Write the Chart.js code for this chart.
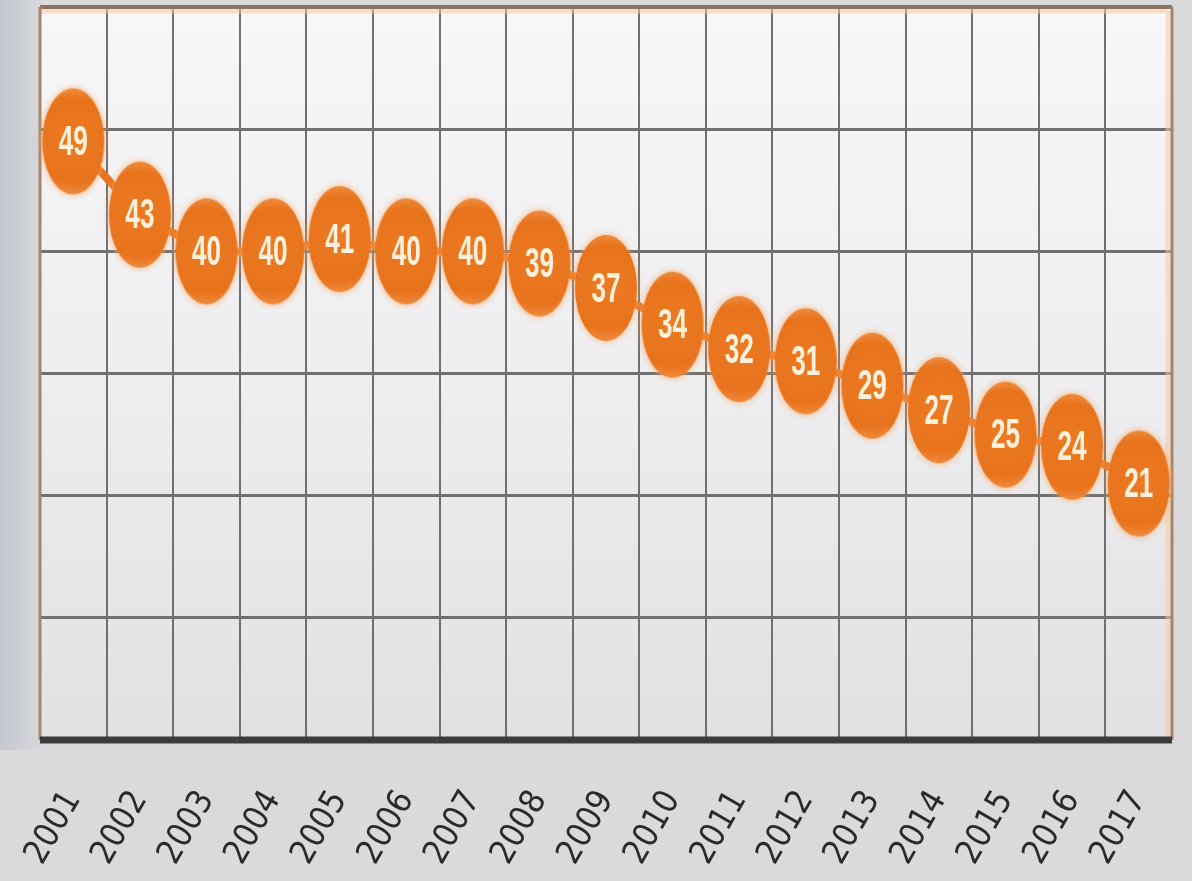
<!DOCTYPE html>
<html>
<head>
<meta charset="utf-8">
<script src="https://cdn.jsdelivr.net/npm/chart.js@4/dist/chart.umd.min.js"></script>
<style>
  html, body { margin: 0; padding: 0; background: #dadadd; }
  #wrap { width: 1192px; height: 881px; }
</style>
</head>
<body>
<div id="wrap"><canvas id="chart" width="1192" height="881"></canvas></div>
<script>
// data
const years  = ['2001','2002','2003','2004','2005','2006','2007','2008','2009',
                '2010','2011','2012','2013','2014','2015','2016','2017'];
const values = [49, 43, 40, 40, 41, 40, 40, 39, 37, 34, 32, 31, 29, 27, 25, 24, 21];
const yTicks = [0, 10, 20, 30, 40, 50, 60];

// orange oval used as the point marker
function makeBlob() {
  const c = document.createElement('canvas');
  c.width = 80; c.height = 126;
  const g = c.getContext('2d');
  g.shadowColor = 'rgba(248,170,100,0.9)';
  g.shadowBlur = 7;
  const grad = g.createRadialGradient(40, 60, 5, 40, 63, 52);
  grad.addColorStop(0, '#ec7a22');
  grad.addColorStop(0.8, '#e8731d');
  grad.addColorStop(1, '#ee8a3c');
  g.fillStyle = grad;
  g.beginPath();
  g.ellipse(40, 63, 31, 53, 0, 0, Math.PI * 2);
  g.fill();
  return c;
}
const blob = makeBlob();

const backdrop = {
  id: 'backdrop',
  beforeDraw(chart) {
    const { ctx, chartArea: a, width, height } = chart;
    ctx.save();
    ctx.fillStyle = '#dadadd';
    ctx.fillRect(0, 0, width, height);
    const side = ctx.createLinearGradient(0, 0, a.left, 0);
    side.addColorStop(0, '#c3c7d0');
    side.addColorStop(1, '#d6d7dc');
    ctx.fillStyle = side;
    ctx.fillRect(0, 0, a.left, a.bottom + 10);
    const pg = ctx.createLinearGradient(0, a.top, 0, a.bottom);
    pg.addColorStop(0, '#f7f7f9');
    pg.addColorStop(0.5, '#eeeef0');
    pg.addColorStop(1, '#e1e1e3');
    ctx.fillStyle = pg;
    ctx.fillRect(a.left, a.top, a.right - a.left, a.bottom - a.top);
    ctx.restore();
  },
  beforeDatasetsDraw(chart) {
    const { ctx, chartArea: a } = chart;
    ctx.save();
    // frame: brown/orange edges, heavy dark base
    ctx.strokeStyle = 'rgba(245,200,160,0.55)';
    ctx.lineWidth = 5;
    ctx.beginPath();
    ctx.moveTo(a.left, a.top + 4); ctx.lineTo(a.right - 4, a.top + 4);
    ctx.moveTo(a.right - 4, a.top + 4); ctx.lineTo(a.right - 4, a.bottom);
    ctx.stroke();
    ctx.strokeStyle = '#8a7360';
    ctx.lineWidth = 4;
    ctx.beginPath();
    ctx.moveTo(a.left, a.top); ctx.lineTo(a.right, a.top);
    ctx.stroke();
    ctx.strokeStyle = '#a88466';
    ctx.lineWidth = 3;
    ctx.beginPath();
    ctx.moveTo(a.right, a.top); ctx.lineTo(a.right, a.bottom);
    ctx.moveTo(a.left, a.top); ctx.lineTo(a.left, a.bottom);
    ctx.stroke();
    ctx.strokeStyle = '#3c3c3c';
    ctx.lineWidth = 7;
    ctx.beginPath();
    ctx.moveTo(a.left, a.bottom); ctx.lineTo(a.right, a.bottom);
    ctx.stroke();
    ctx.restore();
  },
  afterDatasetsDraw(chart) {
    const { ctx } = chart;
    const meta = chart.getDatasetMeta(0);
    ctx.save();
    ctx.fillStyle = '#fdf1dc';
    ctx.font = 'bold 29px "Liberation Sans", Arial, sans-serif';
    ctx.textAlign = 'center';
    ctx.textBaseline = 'middle';
    meta.data.forEach((pt, i) => {
      ctx.save();
      ctx.translate(pt.x, pt.y + 2);
      ctx.scale(0.9, 1.45);
      ctx.fillText(String(values[i]), 0, 0);
      ctx.restore();
    });
    ctx.restore();
  }
};

new Chart(document.getElementById('chart'), {
  type: 'line',
  data: {
    labels: years,
    datasets: [{
      data: values,
      borderColor: '#e8731e',
      borderWidth: 8,
      pointStyle: blob,
      pointRadius: 30,
      pointHoverRadius: 30,
      tension: 0,
      fill: false,
      clip: false
    }]
  },
  options: {
    responsive: false,
    animation: false,
    events: [],
    layout: { autoPadding: false, padding: { left: 40, right: 20, top: 7, bottom: 0 } },
    plugins: { legend: { display: false }, tooltip: { enabled: false } },
    scales: {
      x: {
        offset: true,
        grid: { offset: true, color: '#707070', lineWidth: 2, drawTicks: false },
        border: { display: false },
        ticks: {
          minRotation: 60, maxRotation: 60, autoSkip: false,
          padding: 44,
          color: '#2a2a2a',
          font: { family: "'DejaVu Sans Condensed', 'Liberation Sans', sans-serif", size: 34 }
        },
        afterFit(scale) {
          scale.height = 141;
          scale.paddingLeft = 0; scale.paddingRight = 0;
        }
      },
      y: {
        min: yTicks[0], max: yTicks[yTicks.length - 1],
        afterBuildTicks(scale) { scale.ticks = yTicks.map(v => ({ value: v })); },
        grid: { color: '#707070', lineWidth: 3, drawTicks: false },
        border: { display: false },
        ticks: { display: false },
        afterFit(scale) { scale.width = 0; scale.paddingTop = 0; scale.paddingBottom = 0; }
      }
    }
  },
  plugins: [backdrop]
});
</script>
</body>
</html>
